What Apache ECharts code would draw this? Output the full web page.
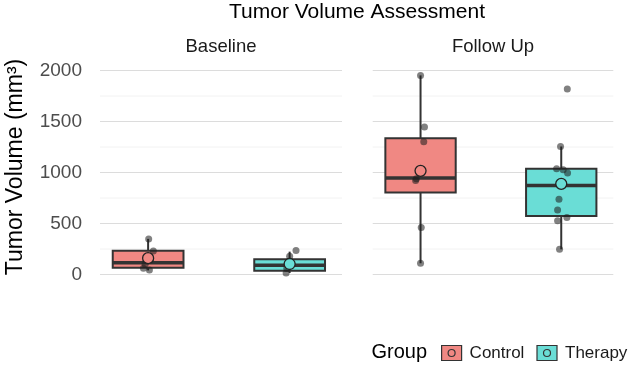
<!DOCTYPE html>
<html><head><meta charset="utf-8">
<script src="https://cdn.jsdelivr.net/npm/echarts@6/dist/echarts.min.js"></script>
<style>html,body{margin:0;padding:0;background:#fff}#c{width:633px;height:366px}</style>
</head><body><div id="c"></div>
<script>
// ---------- data ----------
const panels = ['Baseline', 'Follow Up'];
const groups = ['Control', 'Therapy'];
const yTicks = [0, 500, 1000, 1500, 2000];
const yMinorTicks = [250, 750, 1250, 1750];
// box stats: [group position, min, Q1, median, Q3, max]
const baselineControlBox = [1, 40, 67, 116, 234, 349];
const baselineTherapyBox = [2, 15, 37, 90, 149, 224];
const followControlBox = [1, 110, 803, 945, 1337, 1952];
const followTherapyBox = [2, 247, 574, 872, 1036, 1255];
// group means
const baselineMeans = [160, 103];
const followMeans = [1016, 889];
// individual (jittered) observations: [group position + jitter, value]
const baselineControlPts = [[1.004, 349], [1.037, 231], [0.979, 100], [0.967, 61], [1.009, 44]];
const baselineTherapyPts = [[2.045, 235], [2.0, 180], [1.98, 60], [1.975, 15]];
const followControlPts = [[1.0, 1952], [1.028, 1445], [1.023, 1301], [0.97, 938], [0.965, 921], [1.005, 460], [1.0, 110]];
const followTherapyPts = [[2.043, 1818], [1.995, 1255], [1.967, 1036], [2.014, 1026], [2.045, 994], [1.984, 738], [1.974, 633], [1.974, 528], [2.04, 558], [1.988, 247]];

// ---------- styles ----------
const FILL = { Control: '#F08883', Therapy: '#6ADDD6' };
const STROKE = '#333333';
const BOX_W = 0.5;
const FONT = '"Liberation Sans", Arial, Helvetica, sans-serif';

const boxes = [[baselineControlBox, baselineTherapyBox], [followControlBox, followTherapyBox]];
const means = [baselineMeans, followMeans];
const pts = [[baselineControlPts, baselineTherapyPts], [followControlPts, followTherapyPts]];
const gridBoxes = [{ left: 100, width: 242 }, { left: 372.7, width: 240.6 }];

function renderGrid(params, api) {
  const cs = params.coordSys;
  const y = api.coord([1, api.value(0)])[1];
  const major = api.value(1) === 1;
  return { type: 'line', shape: { x1: cs.x, y1: y, x2: cs.x + cs.width, y2: y },
    style: { stroke: major ? '#dcdcdc' : '#efefef', lineWidth: major ? 1.1 : 0.8 } };
}

function renderBox(params, api) {
  const x = api.value(0);
  const lo = api.coord([x, api.value(1)]);
  const q1 = api.coord([x, api.value(2)]);
  const med = api.coord([x, api.value(3)]);
  const q3 = api.coord([x, api.value(4)]);
  const hi = api.coord([x, api.value(5)]);
  const w = api.size([BOX_W, 0])[0];
  const fill = api.style().fill;
  return { type: 'group', children: [
    { type: 'line', shape: { x1: lo[0], y1: lo[1], x2: q1[0], y2: q1[1] }, style: { stroke: STROKE, lineWidth: 2 } },
    { type: 'line', shape: { x1: q3[0], y1: q3[1], x2: hi[0], y2: hi[1] }, style: { stroke: STROKE, lineWidth: 2 } },
    { type: 'rect', shape: { x: q3[0] - w / 2, y: q3[1], width: w, height: q1[1] - q3[1] }, style: { fill: fill, stroke: STROKE, lineWidth: 2 } },
    { type: 'line', shape: { x1: med[0] - w / 2, y1: med[1], x2: med[0] + w / 2, y2: med[1] }, style: { stroke: STROKE, lineWidth: 3.5 } }
  ] };
}

const grid = [], xAxis = [], yAxis = [], series = [];
panels.forEach((p, i) => {
  grid.push({ left: gridBoxes[i].left, width: gridBoxes[i].width, top: 65.4, height: 219.3 });
  xAxis.push({ type: 'value', gridIndex: i, min: 0.66, max: 2.37, show: false });
  yAxis.push({ type: 'value', gridIndex: i, min: -100, max: 2050,
    axisLine: { show: false }, axisTick: { show: false }, splitLine: { show: false },
    axisLabel: { show: i === 0, margin: 18, color: '#4d4d4d', fontSize: 19, fontFamily: FONT,
      formatter: v => (yTicks.indexOf(v) >= 0 ? String(v) : '') } });
  const gl = yTicks.map(v => [v, 1]).concat(yMinorTicks.map(v => [v, 0]));
  series.push({ type: 'custom', name: 'grid' + i, xAxisIndex: i, yAxisIndex: i, z: 0, silent: true,
    renderItem: renderGrid, data: gl });
  groups.forEach((g, k) => {
    series.push({ type: 'custom', name: g, xAxisIndex: i, yAxisIndex: i, z: 2,
      itemStyle: { color: FILL[g], borderColor: STROKE },
      renderItem: renderBox, data: [boxes[i][k]] });
  });
  series.push({ type: 'scatter', name: 'obs' + i, xAxisIndex: i, yAxisIndex: i, z: 3,
    symbolSize: 7, itemStyle: { color: 'rgba(30,30,30,0.7)' },
    data: pts[i][0].concat(pts[i][1]) });
  groups.forEach((g, k) => {
    series.push({ type: 'scatter', name: g + ' mean', xAxisIndex: i, yAxisIndex: i, z: 4,
      symbolSize: 11, itemStyle: { color: FILL[g], borderColor: '#222', borderWidth: 1.3, opacity: 1 },
      data: [[k + 1, means[i][k]]] });
  });
});

const chart = echarts.init(document.getElementById('c'), null, { renderer: 'canvas' });
chart.setOption({
  animation: false,
  backgroundColor: '#fff',
  grid, xAxis, yAxis, series,
  legend: {
    left: 441, top: 344.5, width: 200, padding: 0, itemWidth: 20, itemHeight: 15, itemGap: 12,
    icon: 'path://M0,0H20V15H0Z M13.5,7.5A3.5,3.5,0,1,1,6.5,7.5A3.5,3.5,0,1,1,13.5,7.5Z',
    textStyle: { fontSize: 17, color: '#1a1a1a', fontFamily: FONT, padding: [0, 0, 0, 3] },
    data: groups.map(g => ({ name: g, itemStyle: { color: FILL[g], borderColor: STROKE, borderWidth: 1.2 } })),
    selectedMode: false
  },
  graphic: [
    { type: 'text', x: 357, y: 12, style: { text: 'Tumor Volume Assessment', fontSize: 21, fontFamily: FONT, fill: '#000', align: 'center', verticalAlign: 'middle' } },
    { type: 'text', x: 221, y: 46.5, style: { text: panels[0], fontSize: 18.5, fontFamily: FONT, fill: '#1a1a1a', align: 'center', verticalAlign: 'middle' } },
    { type: 'text', x: 493, y: 46.5, style: { text: panels[1], fontSize: 18.5, fontFamily: FONT, fill: '#1a1a1a', align: 'center', verticalAlign: 'middle' } },
    { type: 'text', x: 16, y: 167, rotation: Math.PI / 2, style: { text: 'Tumor Volume (mm³)', fontSize: 23, fontFamily: FONT, fill: '#000', align: 'center', verticalAlign: 'middle' } },
    { type: 'text', x: 371.5, y: 352, style: { text: 'Group', fontSize: 20, fontFamily: FONT, fill: '#000', align: 'left', verticalAlign: 'middle' } }
  ]
});
</script></body></html>
